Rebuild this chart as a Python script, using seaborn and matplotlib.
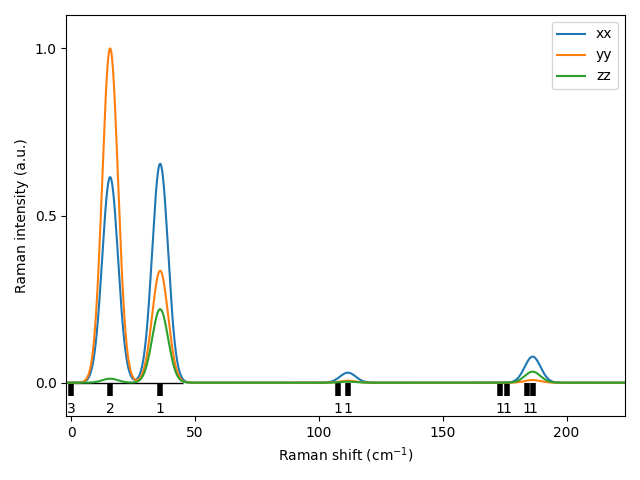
import numpy as np
import pandas as pd
import matplotlib
matplotlib.use("Agg")
import matplotlib.pyplot as plt
import seaborn as sns

# Phonon modes (cm^-1) and degeneracies
mode_freqs = [0.0, 15.7, 35.9, 107.7, 111.7, 173.0, 175.8, 183.9, 186.3]
mode_degen = [3, 2, 1, 1, 1, 1, 1, 1, 1]

# Raman activities per polarisation (peak heights, normalised)
act_xx = [0.0, 0.615, 0.655, 0.0, 0.030, 0.0, 0.0, 0.0, 0.078]
act_yy = [0.0, 1.000, 0.335, 0.0, 0.006, 0.0, 0.0, 0.0, 0.008]
act_zz = [0.0, 0.012, 0.220, 0.0, 0.003, 0.0, 0.0, 0.0, 0.033]

sigma = 3.2  # Gaussian broadening (cm^-1)
shift = np.linspace(-2, 224, 2400)

def broaden(acts):
    out = np.zeros_like(shift)
    for f, a in zip(mode_freqs, acts):
        out += a * np.exp(-0.5 * ((shift - f) / sigma) ** 2)
    return out

frames = []
for name, acts in [("xx", act_xx), ("yy", act_yy), ("zz", act_zz)]:
    frames.append(pd.DataFrame({"shift": shift, "intensity": broaden(acts), "pol": name}))
df = pd.concat(frames, ignore_index=True)

fig, ax = plt.subplots(figsize=(6.4, 4.8), dpi=100)
sns.lineplot(data=df, x="shift", y="intensity", hue="pol",
             palette=["#1f77b4", "#ff7f0e", "#2ca02c"], ax=ax, linewidth=1.5)

# mode markers
ax.hlines(-0.002, 0, 45, color="black", linewidth=1.0, zorder=1)
ax.vlines(mode_freqs, -0.04, 0, color="black", linewidth=4.0, zorder=1)
for f, d in zip(mode_freqs, mode_degen):
    ax.text(f, -0.078, str(d), ha="center", va="center", fontsize=10)

ax.set_xlim(-2, 223.6)
ax.set_ylim(-0.1, 1.1)
ax.set_xticks([0, 50, 100, 150, 200])
ax.set_yticks([0.0, 0.5, 1.0])
ax.set_xlabel("Raman shift (cm$^{-1}$)")
ax.set_ylabel("Raman intensity (a.u.)")
handles, labels = ax.get_legend_handles_labels()
ax.legend(handles, labels, loc="upper right")
fig.tight_layout()
fig.savefig("out.png", dpi=100)
